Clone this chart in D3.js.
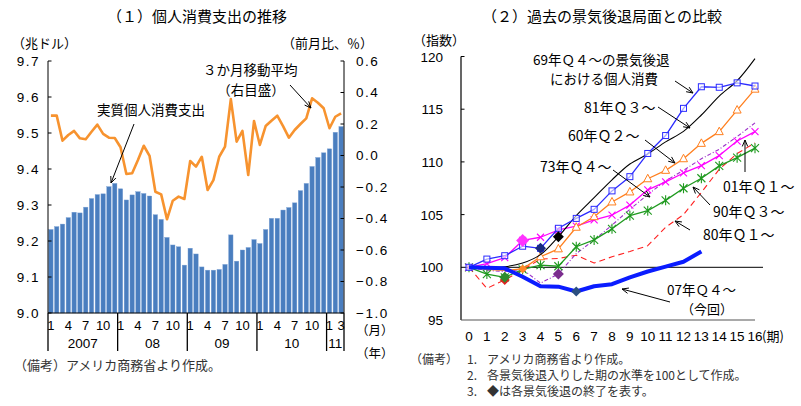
<!DOCTYPE html>
<html><head><meta charset="utf-8">
<script src="https://cdn.jsdelivr.net/npm/d3@7"></script>
<style>
body{margin:0;background:#fff;}
svg{display:block;}
text{font-family:"Noto Sans CJK JP","Noto Sans",sans-serif;fill:#000;}
.num{font-family:"Liberation Sans",Arial,sans-serif;}
</style></head><body>
<svg id="c" width="801" height="406"></svg>
<script>
// ---------- Left chart data ----------
const pce = [
 9.232, 9.240, 9.247, 9.265, 9.280, 9.278, 9.294, 9.318, 9.329, 9.331, 9.351, 9.360,
 9.345, 9.314, 9.328, 9.337, 9.332, 9.325, 9.273, 9.260, 9.210, 9.189, 9.184, 9.133,
 9.180, 9.164, 9.128, 9.119, 9.119, 9.121, 9.135, 9.217, 9.144, 9.175, 9.182, 9.204,
 9.193, 9.232, 9.263, 9.263, 9.286, 9.293, 9.306, 9.340, 9.360, 9.407, 9.432, 9.445,
 9.456, 9.502, 9.518];
const ma3 = [
 0.253, 0.253, 0.094, 0.130, 0.156, 0.109, 0.103, 0.151, 0.196, 0.137, 0.113, 0.111,
 0.052, -0.117, -0.113, -0.029, 0.062, -0.003, -0.230, -0.247, -0.405, -0.287, -0.261, -0.276,
 -0.035, -0.071, -0.008, -0.219, -0.156, -0.008, 0.056, 0.358, 0.088, 0.156, -0.124, 0.219,
 0.067, 0.187, 0.221, 0.253, 0.187, 0.113, 0.162, 0.200, 0.236, 0.363, 0.335, 0.300,
 0.173, 0.246, 0.268];
const leftTicks = [9.0, 9.1, 9.2, 9.3, 9.4, 9.5, 9.6, 9.7];
const rightTicks = [-1.0, -0.8, -0.6, -0.4, -0.2, 0.0, 0.2, 0.4, 0.6];
const monthTickIdx = [0,3,6,9, 12,15,18,21, 24,27,30,33, 36,39,42,45, 48,50];
const monthTickLabels = ["1","4","7","10","1","4","7","10","1","4","7","10","1","4","7","10","1","3"];
const yearLabels = ["2007","08","09","10","11"];
const yearStartIdx = [0,12,24,36,48];
const yearEndIdx = [12,24,36,48,51];

// ---------- Right chart data ----------
const periods = [0,1,2,3,4,5,6,7,8,9,10,11,12,13,14,15,16];
const xTickLabels = ["0","1","2","3","4","5","6","7","8","9","10","11","12","13","14","15","16"];
const yTicksR = [95, 100, 105, 110, 115, 120];
const s1969 = [100, 100.78, 101.1, 102.0, 101.8, 103.7, 104.64, 105.5, 107.25, 108.6, 110.8, 112.5, 115.08, 117.13, 117.08, 117.5, 117.2];
const s1981 = [100, 99.95, 100.05, 100.4, 101.2, 102.9, 104.9, 106.6, 108.3, 109.8, 110.75, 111.9, 112.9, 114.45, 116.25, 117.7, 119.8];
const s1960 = [100, 99.8, 99.7, 99.85, 101.0, 101.75, 103.8, 104.8, 106.2, 107.15, 108.4, 109.2, 110.3, 111.76, 112.87, 114.92, 116.9];
const s2001 = [100, 100.35, 100.92, 102.55, 102.85, 103.54, 103.9, 104.5, 104.96, 105.9, 107.35, 108.1, 108.95, 109.65, 110.6, 111.98, 112.87];
const s1973 = [100, 99.7, 99.6, 99.8, 98.5, 99.36, 101.3, 102.6, 104.0, 105.5, 106.9, 108.2, 109.2, 110.3, 111.2, 112.4, 113.7];
const s1990 = [100, 99.36, 99.05, 99.8, 100.2, 100.1, 101.95, 102.6, 103.65, 104.9, 105.37, 106.35, 107.5, 108.45, 109.62, 110.4, 111.3];
const s1980 = [100, 98.0, 98.8, 99.75, 100.78, 100.84, 101.15, 100.4, 101.0, 101.5, 102.05, 103.8, 105.0, 107.1, 109.3, 110.8, 111.8];
const s2007 = [100, 99.95, 99.9, 99.1, 98.2, 98.16, 97.7, 98.2, 98.4, 99.04, 99.6, 100.06, 100.53, 101.5];
// period at which each recession ended (diamond marker)
const endP = {s1969:4, s1981:5, s1960:3, s2001:3, s1973:5, s1990:2, s1980:2, s2007:6};

const svg = d3.select("#c");

function arrow(g, x1, y1, x2, y2) {
  g.append("line").attr("x1",x1).attr("y1",y1).attr("x2",x2).attr("y2",y2)
    .attr("stroke","#000").attr("stroke-width",1);
  const a = Math.atan2(y2-y1, x2-x1), L = 7, w = 0.4;
  [a+Math.PI-w, a+Math.PI+w].forEach(b => {
    g.append("line").attr("x1",x2).attr("y1",y2)
      .attr("x2",x2+L*Math.cos(b)).attr("y2",y2+L*Math.sin(b))
      .attr("stroke","#000").attr("stroke-width",1);
  });
}

// ================= LEFT CHART =================
const L = svg.append("g");
const xL = d3.scaleBand().domain(d3.range(pce.length)).range([48,344]).paddingInner(0.24).paddingOuter(0.12);
const yL = d3.scaleLinear().domain([9.0, 9.7]).range([313, 61]);
const yR = d3.scaleLinear().domain([-1.0, 0.6]).range([313, 61]);
const step = xL.step(), x0 = xL.range()[0];

L.selectAll("rect.bar").data(pce).join("rect")
  .attr("x",(d,i)=>xL(i)).attr("width",xL.bandwidth())
  .attr("y",d=>yL(d)).attr("height",d=>yL(9.0)-yL(d))
  .attr("fill","#4a7ebf").attr("stroke","#7ea3d6").attr("stroke-width",0.4);

L.append("path").datum(ma3)
  .attr("d", d3.line().x((d,i)=>xL(i)+xL.bandwidth()/2).y(d=>yR(d)))
  .attr("fill","none").attr("stroke","#f7932f").attr("stroke-width",2.6).attr("stroke-linejoin","round");

// axes
L.append("line").attr("x1",48).attr("x2",48).attr("y1",61).attr("y2",313).attr("stroke","#000");
L.append("line").attr("x1",344).attr("x2",344).attr("y1",61).attr("y2",313).attr("stroke","#000");
L.append("line").attr("x1",48).attr("x2",344).attr("y1",313).attr("y2",313).attr("stroke","#000");
leftTicks.forEach(t=>{
  L.append("line").attr("x1",48).attr("x2",51.5).attr("y1",yL(t)).attr("y2",yL(t)).attr("stroke","#000");
  L.append("text").attr("class","num").attr("x",40).attr("y",yL(t)+5).attr("text-anchor","end")
    .style("font-size","13.5px").style("letter-spacing","1.5px").text(t.toFixed(1));
});
rightTicks.forEach(t=>{
  L.append("line").attr("x1",340.5).attr("x2",344).attr("y1",yR(t)).attr("y2",yR(t)).attr("stroke","#000");
  L.append("text").attr("class","num").attr("x",356).attr("y",yR(t)+4.5)
    .style("font-size","13.5px").style("letter-spacing","1.5px").text((t<0?"\u2212":"")+Math.abs(t).toFixed(1));
});
// month labels & year separators
monthTickIdx.forEach((idx,k)=>{
  L.append("text").attr("class","num").attr("x",xL(idx)+xL.bandwidth()/2).attr("y",330).attr("text-anchor","middle")
    .style("font-size","13px").text(monthTickLabels[k]);
});
yearStartIdx.concat([51]).forEach(idx=>{
  const xx = x0 + idx*step;
  L.append("line").attr("x1",xx).attr("x2",xx).attr("y1",313).attr("y2",351).attr("stroke","#000").attr("stroke-width",1.3);
});
yearLabels.forEach((lab,k)=>{
  const xm = x0 + (yearStartIdx[k]+yearEndIdx[k])/2*step;
  L.append("text").attr("class","num").attr("x",xm).attr("y",348).attr("text-anchor","middle").style("font-size","13.5px").text(lab);
});
L.append("text").attr("x",356).attr("y",335).style("font-size","12.5px").text("（月）");
L.append("text").attr("x",356).attr("y",358).style("font-size","12.5px").text("（年）");

L.append("text").attr("x",197).attr("y",22).attr("text-anchor","middle").style("font-size","15px").text("（１）個人消費支出の推移");
L.append("text").attr("x",12).attr("y",48).style("font-size","13px").text("（兆ドル）");
L.append("text").attr("x",282).attr("y",48).style("font-size","13px").text("（前月比、％）");
L.append("text").attr("x",97).attr("y",115).style("font-size","13.5px").text("実質個人消費支出");
arrow(L,134,124,111,183);
L.append("text").attr("x",203).attr("y",75).style("font-size","13.5px").text("３か月移動平均");
L.append("text").attr("x",251).attr("y",95).attr("text-anchor","middle").style("font-size","13.5px").text("（右目盛）");
arrow(L,290,85,311,108);
L.append("text").attr("x",14).attr("y",370).style("font-size","13px").style("fill","#333").text("（備考）アメリカ商務省より作成。");

// ================= RIGHT CHART =================
const R = svg.append("g");
const xP = d3.scaleLinear().domain([0,16]).range([469,755]);
const yP = d3.scaleLinear().domain([95,120]).range([320,56.5]);

R.append("line").attr("x1",461).attr("x2",461).attr("y1",yP(120)).attr("y2",yP(95)).attr("stroke","#000").attr("stroke-width",1.2);
R.append("line").attr("x1",461).attr("x2",755).attr("y1",yP(95)).attr("y2",yP(95)).attr("stroke","#555").attr("stroke-width",1.2);
R.append("line").attr("x1",461).attr("x2",763).attr("y1",yP(100)).attr("y2",yP(100)).attr("stroke","#000").attr("stroke-width",1);
yTicksR.forEach(t=>{
  if (t>100) R.append("line").attr("x1",461).attr("x2",464.5).attr("y1",yP(t)).attr("y2",yP(t)).attr("stroke","#000");
  R.append("text").attr("class","num").attr("x",443).attr("y",yP(t)+5).attr("text-anchor","end")
    .style("font-size","13.5px").text(t);
});
periods.forEach((p,k)=>{
  R.append("text").attr("class","num").attr("x",xP(p)).attr("y",341).attr("text-anchor","middle")
    .style("font-size","13.5px").text(xTickLabels[k]);
});
R.append("text").attr("x",762).attr("y",341).style("font-size","13px").text("(期)");

const line = d3.line().x((d,i)=>xP(periods[i])).y(d=>yP(d));
const smooth = d3.line().x((d,i)=>xP(periods[i])).y(d=>yP(d)).curve(d3.curveCatmullRom.alpha(0.5));

function drawSeries(data, color, width, dash, gen){
  R.append("path").datum(data).attr("d",(gen||line)).attr("fill","none")
    .attr("stroke",color).attr("stroke-width",width).attr("stroke-dasharray",dash||null)
    .attr("stroke-linejoin","round");
}
function diamond(p, v, color, s){
  s = s||5;
  const cx = xP(p), cy = yP(v);
  R.append("path").attr("d",`M${cx},${cy-s}L${cx+s},${cy}L${cx},${cy+s}L${cx-s},${cy}Z`).attr("fill",color);
}

// 80Q1 red dashed
drawSeries(s1980,"#ff2020",1.1,"6,4");
// 73Q4 purple dash-dot
drawSeries(s1973,"#9b30c8",1.1,"4,2,1,2");
// 90Q3 green asterisks
drawSeries(s1990,"#1f9a1f",1.3);
s1990.forEach((v,i)=>{
  const cx=xP(periods[i]), cy=yP(v), h=4;
  R.append("path").attr("d",`M${cx-h},${cy-h}L${cx+h},${cy+h}M${cx-h},${cy+h}L${cx+h},${cy-h}M${cx},${cy-h-1}L${cx},${cy+h+1}`)
    .attr("stroke","#1f9a1f").attr("stroke-width",1.1);
});
// 01Q1 magenta x
drawSeries(s2001,"#ff00ff",1.3);
s2001.forEach((v,i)=>{
  const cx=xP(periods[i]), cy=yP(v), h=3.5;
  R.append("path").attr("d",`M${cx-h},${cy-h}L${cx+h},${cy+h}M${cx-h},${cy+h}L${cx+h},${cy-h}`)
    .attr("stroke","#ff00ff").attr("stroke-width",1.1);
});
// 60Q2 orange triangles
drawSeries(s1960,"#ff7f1e",1.3);
s1960.forEach((v,i)=>{
  if (i<4) return;
  const cx=xP(periods[i]), cy=yP(v);
  R.append("path").attr("d",`M${cx},${cy-4.5}L${cx+4},${cy+3}L${cx-4},${cy+3}Z`)
    .attr("fill","#fff").attr("stroke","#ff7f1e").attr("stroke-width",1);
});
// 81Q3 black smooth
drawSeries(s1981,"#000",1.1,null,smooth);
// 69Q4 blue squares
drawSeries(s1969,"#2b2bff",1.3);
s1969.forEach((v,i)=>{
  const cx=xP(periods[i]), cy=yP(v);
  R.append("rect").attr("x",cx-3).attr("y",cy-3).attr("width",6).attr("height",6)
    .attr("fill","#fff").attr("fill-opacity",0.6).attr("stroke","#2b2bff").attr("stroke-width",1);
});
// 07Q4 thick blue
drawSeries(s2007,"#0a1cff",4);

// end-of-recession diamonds
diamond(endP.s1980, s1980[endP.s1980], "#e0201f", 5);
diamond(endP.s1990, s1990[endP.s1990], "#2e8b2e", 5.5);
diamond(endP.s1960, s1960[endP.s1960], "#ff8a2a", 4.5);
diamond(endP.s2001, s2001[endP.s2001], "#ff33ff", 6.5);
diamond(endP.s1969, s1969[endP.s1969], "#1a2a80", 5.5);
diamond(endP.s1981, s1981[endP.s1981], "#000", 5.5);
diamond(endP.s1973, s1973[endP.s1973], "#7b2d8e", 5.5);
diamond(endP.s2007, s2007[endP.s2007], "#2b4f80", 5);

// labels
R.append("text").attr("x",602).attr("y",22).attr("text-anchor","middle").style("font-size","15px").text("（２）過去の景気後退局面との比較");
R.append("text").attr("x",413).attr("y",45).style("font-size","13px").text("（指数）");
const lab = (x,y,t,fs)=>R.append("text").attr("x",x).attr("y",y).style("font-size",(fs||14)+"px").text(t);
lab(533,65,"69年Ｑ４～の景気後退",13.5);
lab(550,84,"における個人消費",13.5);
arrow(R,675,81,693,93);
lab(584,113,"81年Ｑ３～");
arrow(R,658,107,690,128);
lab(568,141,"60年Ｑ２～");
arrow(R,645,140,675,163);
lab(540,172,"73年Ｑ４～");
arrow(R,613,170,650,197);
lab(723,192,"01年Ｑ１～");
arrow(R,745,172,745,140);
lab(713,217,"90年Ｑ３～");
arrow(R,710,205,693,187);
lab(703,240,"80年Ｑ１～");
arrow(R,690,230,675,221);
lab(667,295,"07年Ｑ４～",13.5);
lab(681,314,"（今回）",13);
arrow(R,670,302,622,289);

const note = (x,y,t)=>R.append("text").attr("x",x).attr("y",y).style("font-size","12px").style("fill","#333").text(t);
note(410,364,"（備考）");
note(467,364,"1.");
note(487,364,"アメリカ商務省より作成。");
note(467,380,"2.");
note(487,380,"各景気後退入りした期の水準を100として作成。");
note(467,396,"3.");
note(487,396,"◆は各景気後退の終了を表す。");
</script>
</body></html>
